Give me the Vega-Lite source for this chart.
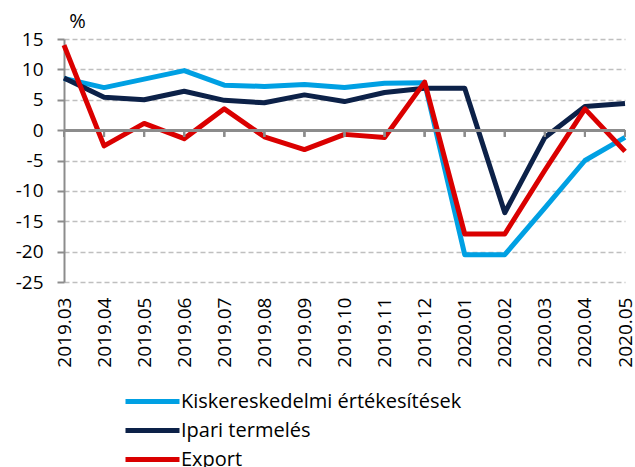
{
  "$schema": "https://vega.github.io/schema/vega-lite/v6.json",
  "width": 561,
  "height": 243,
  "autosize": {"type": "none"},
  "padding": {"left": 64, "top": 39, "right": 10, "bottom": 185},
  "background": "white",
  "config": {
    "view": {"stroke": null},
    "font": "Open Sans",
    "axis": {"labelFont": "Open Sans", "titleFont": "Open Sans", "labelColor": "#000000", "titleColor": "#000000"}
  },
  "data": {
    "values": [
      {"month": "2019.03", "series": "Kiskereskedelmi értékesítések", "value": 8.5},
      {"month": "2019.04", "series": "Kiskereskedelmi értékesítések", "value": 7.0},
      {"month": "2019.05", "series": "Kiskereskedelmi értékesítések", "value": 8.4},
      {"month": "2019.06", "series": "Kiskereskedelmi értékesítések", "value": 9.8},
      {"month": "2019.07", "series": "Kiskereskedelmi értékesítések", "value": 7.4},
      {"month": "2019.08", "series": "Kiskereskedelmi értékesítések", "value": 7.2},
      {"month": "2019.09", "series": "Kiskereskedelmi értékesítések", "value": 7.5},
      {"month": "2019.10", "series": "Kiskereskedelmi értékesítések", "value": 7.0},
      {"month": "2019.11", "series": "Kiskereskedelmi értékesítések", "value": 7.7},
      {"month": "2019.12", "series": "Kiskereskedelmi értékesítések", "value": 7.8},
      {"month": "2020.01", "series": "Kiskereskedelmi értékesítések", "value": -20.5},
      {"month": "2020.02", "series": "Kiskereskedelmi értékesítések", "value": -20.5},
      {"month": "2020.03", "series": "Kiskereskedelmi értékesítések", "value": -12.8},
      {"month": "2020.04", "series": "Kiskereskedelmi értékesítések", "value": -5.0},
      {"month": "2020.05", "series": "Kiskereskedelmi értékesítések", "value": -1.2},
      {"month": "2019.03", "series": "Ipari termelés", "value": 8.6},
      {"month": "2019.04", "series": "Ipari termelés", "value": 5.4},
      {"month": "2019.05", "series": "Ipari termelés", "value": 5.0},
      {"month": "2019.06", "series": "Ipari termelés", "value": 6.4},
      {"month": "2019.07", "series": "Ipari termelés", "value": 4.9},
      {"month": "2019.08", "series": "Ipari termelés", "value": 4.5},
      {"month": "2019.09", "series": "Ipari termelés", "value": 5.8},
      {"month": "2019.10", "series": "Ipari termelés", "value": 4.7},
      {"month": "2019.11", "series": "Ipari termelés", "value": 6.2},
      {"month": "2019.12", "series": "Ipari termelés", "value": 6.9},
      {"month": "2020.01", "series": "Ipari termelés", "value": 6.9},
      {"month": "2020.02", "series": "Ipari termelés", "value": -13.6},
      {"month": "2020.03", "series": "Ipari termelés", "value": -1.2},
      {"month": "2020.04", "series": "Ipari termelés", "value": 3.9},
      {"month": "2020.05", "series": "Ipari termelés", "value": 4.4},
      {"month": "2019.03", "series": "Export", "value": 14.0},
      {"month": "2019.04", "series": "Export", "value": -2.6},
      {"month": "2019.05", "series": "Export", "value": 1.1},
      {"month": "2019.06", "series": "Export", "value": -1.4},
      {"month": "2019.07", "series": "Export", "value": 3.5},
      {"month": "2019.08", "series": "Export", "value": -1.1},
      {"month": "2019.09", "series": "Export", "value": -3.2},
      {"month": "2019.10", "series": "Export", "value": -0.7},
      {"month": "2019.11", "series": "Export", "value": -1.2},
      {"month": "2019.12", "series": "Export", "value": 7.9},
      {"month": "2020.01", "series": "Export", "value": -17.1},
      {"month": "2020.02", "series": "Export", "value": -17.1},
      {"month": "2020.03", "series": "Export", "value": -6.6},
      {"month": "2020.04", "series": "Export", "value": 3.5},
      {"month": "2020.05", "series": "Export", "value": -3.5}
    ]
  },
  "encoding": {
    "x": {
      "field": "month",
      "type": "ordinal",
      "scale": {"type": "point", "padding": 0},
      "axis": {
        "title": null,
        "labelAngle": -90,
        "labelFontSize": 19,
        "labelPadding": 15,
        "labelOverlap": false,
        "domain": false,
        "ticks": false,
        "grid": false
      }
    }
  },
  "layer": [
    {
      "mark": {"type": "line", "strokeWidth": 5, "strokeJoin": "round", "strokeCap": "butt"},
      "encoding": {
        "y": {
          "field": "value",
          "type": "quantitative",
          "scale": {"domain": [-25, 15], "nice": false, "zero": false},
          "axis": {
            "title": "%",
            "titleAngle": 0,
            "titleX": 13,
            "titleY": -12,
            "titleAlign": "center",
            "titleBaseline": "alphabetic",
            "titleFontSize": 20,
            "titleFontWeight": "normal",
            "values": [-25, -20, -15, -10, -5, 0, 5, 10, 15],
            "labelExpr": "datum.value < 0 ? '-' + abs(datum.value) : '' + datum.value",
            "labelOverlap": false,
            "labelFontSize": 19,
            "labelPadding": 14,
            "tickSize": 7,
            "tickColor": "#8C8C8C",
            "tickWidth": 2,
            "domainColor": "#8C8C8C",
            "domainWidth": 2,
            "grid": true,
            "gridColor": "#BFBFBF",
            "gridDash": [5, 3],
            "gridWidth": 1.5
          }
        },
        "color": {
          "field": "series",
          "type": "nominal",
          "scale": {
            "domain": ["Kiskereskedelmi értékesítések", "Ipari termelés", "Export"],
            "range": ["#00A0E3", "#0C2148", "#DA0000"]
          },
          "legend": {
            "title": null,
            "orient": "none",
            "legendX": 76,
            "legendY": 350,
            "direction": "vertical",
            "symbolType": "M-2.7,0H2.7",
            "symbolSize": 400,
            "symbolStrokeWidth": 5,
            "labelFontSize": 20,
            "labelLimit": 500,
            "labelColor": "#000000",
            "labelOffset": 16,
            "rowPadding": 6
          }
        }
      }
    },
    {
      "mark": {"type": "rule", "color": "#8C8C8C", "strokeWidth": 2},
      "encoding": {
        "x": null,
        "y": {
          "datum": 0,
          "type": "quantitative",
          "axis": {
            "title": "%",
            "titleAngle": 0,
            "titleX": 13,
            "titleY": -12,
            "titleAlign": "center",
            "titleBaseline": "alphabetic",
            "titleFontSize": 20,
            "titleFontWeight": "normal",
            "values": [-25, -20, -15, -10, -5, 0, 5, 10, 15],
            "labelExpr": "datum.value < 0 ? '-' + abs(datum.value) : '' + datum.value",
            "labelOverlap": false,
            "labelFontSize": 19,
            "labelPadding": 14,
            "tickSize": 7,
            "tickColor": "#8C8C8C",
            "tickWidth": 2,
            "domainColor": "#8C8C8C",
            "domainWidth": 2,
            "grid": true,
            "gridColor": "#BFBFBF",
            "gridDash": [5, 3],
            "gridWidth": 1.5
          }
        }
      }
    },
    {
      "mark": {"type": "rule", "color": "#8C8C8C", "strokeWidth": 2},
      "encoding": {
        "y": {
          "datum": 0,
          "type": "quantitative",
          "axis": {
            "title": "%",
            "titleAngle": 0,
            "titleX": 13,
            "titleY": -12,
            "titleAlign": "center",
            "titleBaseline": "alphabetic",
            "titleFontSize": 20,
            "titleFontWeight": "normal",
            "values": [-25, -20, -15, -10, -5, 0, 5, 10, 15],
            "labelExpr": "datum.value < 0 ? '-' + abs(datum.value) : '' + datum.value",
            "labelOverlap": false,
            "labelFontSize": 19,
            "labelPadding": 14,
            "tickSize": 7,
            "tickColor": "#8C8C8C",
            "tickWidth": 2,
            "domainColor": "#8C8C8C",
            "domainWidth": 2,
            "grid": true,
            "gridColor": "#BFBFBF",
            "gridDash": [5, 3],
            "gridWidth": 1.5
          }
        },
        "y2": {"datum": -1.1}
      }
    }
  ]
}
